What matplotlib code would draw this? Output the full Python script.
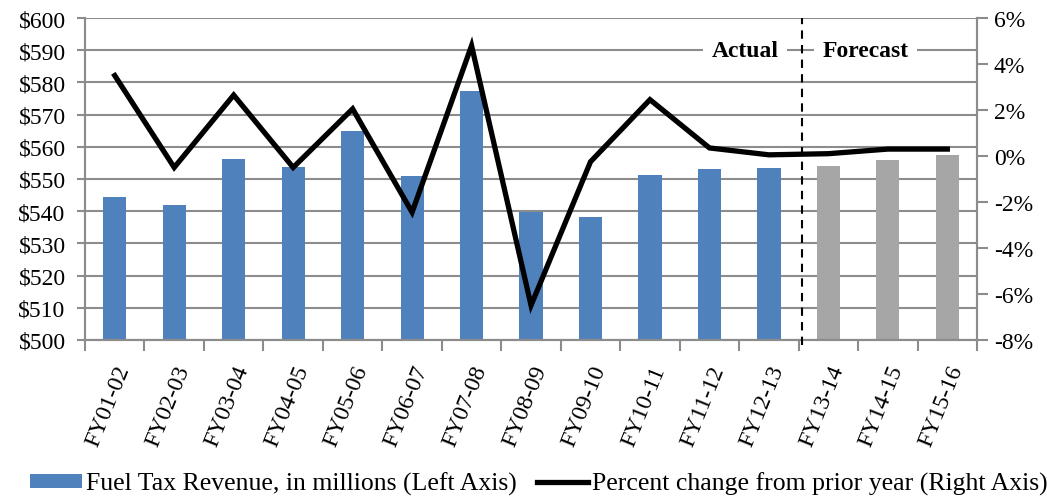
import matplotlib
matplotlib.use("Agg")
import matplotlib.pyplot as plt
import numpy as np
from matplotlib.patches import Patch
from matplotlib.lines import Line2D

plt.rcParams['font.family'] = ['Liberation Serif', 'DejaVu Serif']

years = ['FY01-02', 'FY02-03', 'FY03-04', 'FY04-05', 'FY05-06', 'FY06-07',
         'FY07-08', 'FY08-09', 'FY09-10', 'FY10-11', 'FY11-12', 'FY12-13',
         'FY13-14', 'FY14-15', 'FY15-16']
revenue = [544.5, 541.8, 556.2, 553.6, 564.8, 551.0, 577.4, 539.8, 538.3,
           551.3, 553.1, 553.3, 554.0, 555.8, 557.5]
pct_change = [3.5, -0.5, 2.65, -0.5, 2.05, -2.45, 4.8, -6.5, -0.25, 2.45,
              0.35, 0.05, 0.1, 0.3, 0.3]
n_actual = 12

blue = '#4f81bd'
grey_bar = '#a6a6a6'
grid_c = '#8c8c8c'
fs = 17

fig = plt.figure(figsize=(10.47, 5.02), dpi=100)
ax = fig.add_axes([0.0812, 0.321, 0.852, 0.641])
x = np.arange(len(years))
colors = [blue if i < n_actual else grey_bar for i in range(len(years))]
ax.bar(x, [v - 500 for v in revenue], bottom=500, width=0.39, color=colors, zorder=2)
ax.set_ylim(500, 600)
ax.set_xlim(-0.5, len(years) - 0.5)
ax.set_yticks(np.arange(500, 601, 10))
ax.set_yticklabels(['$%d' % v for v in range(500, 601, 10)], fontsize=fs)
ax.yaxis.grid(True, color=grid_c, lw=1.5, zorder=0)
ax.set_axisbelow(True)

ax.set_xticks(x)
ax.set_xticklabels(years, rotation=68, ha='right', rotation_mode='anchor', fontsize=fs)
ax.set_xticks(np.arange(-0.5, len(years), 1), minor=True)
ax.tick_params(axis='x', which='major', length=0, pad=16)
ax.tick_params(axis='x', which='minor', length=8, color=grid_c, width=1.5)
ax.tick_params(axis='y', length=6, color=grid_c, width=1.5, pad=8)
for s in ['left', 'bottom', 'right']:
    ax.spines[s].set_color(grid_c)
    ax.spines[s].set_linewidth(1.5)
ax.spines['top'].set_visible(False)

ax2 = ax.twinx()
ax2.plot(x, pct_change, color='black', lw=3.8, solid_joinstyle='miter', zorder=3)
ax2.set_ylim(-8, 6)
ax2.set_yticks(np.arange(-8, 7, 2))
ax2.set_yticklabels(['%d%%' % v for v in range(-8, 7, 2)], fontsize=fs)
ax2.tick_params(axis='y', length=8, color=grid_c, width=1.5, pad=4)
for s in ['left', 'bottom', 'right']:
    ax2.spines[s].set_color(grid_c)
    ax2.spines[s].set_linewidth(1.5)
ax2.spines['top'].set_visible(False)

ax2.axvline(n_actual - 0.45, ymin=-0.015, ymax=1, clip_on=False, color='black',
            lw=1.5, ls=(0, (4, 3)), zorder=4)
ax.text(10.6, 590, 'Actual', fontsize=fs, fontweight='bold', ha='center', va='center',
        bbox=dict(facecolor='white', edgecolor='none', pad=6), zorder=5)
ax.text(12.62, 590, 'Forecast', fontsize=fs, fontweight='bold', ha='center', va='center',
        bbox=dict(facecolor='white', edgecolor='none', pad=6), zorder=5)

handles = [Patch(facecolor=blue, edgecolor='none'),
           Line2D([0], [0], color='black', lw=3.8)]
fig.legend(handles, ['Fuel Tax Revenue, in millions (Left Axis)',
                     'Percent change from prior year (Right Axis)'],
           loc='lower center', bbox_to_anchor=(0.515, -0.035), ncol=2, frameon=False,
           fontsize=18.5, handlelength=2.0, handleheight=0.5, handletextpad=0.15,
           columnspacing=0.8)

fig.savefig('out.png', dpi=100)
